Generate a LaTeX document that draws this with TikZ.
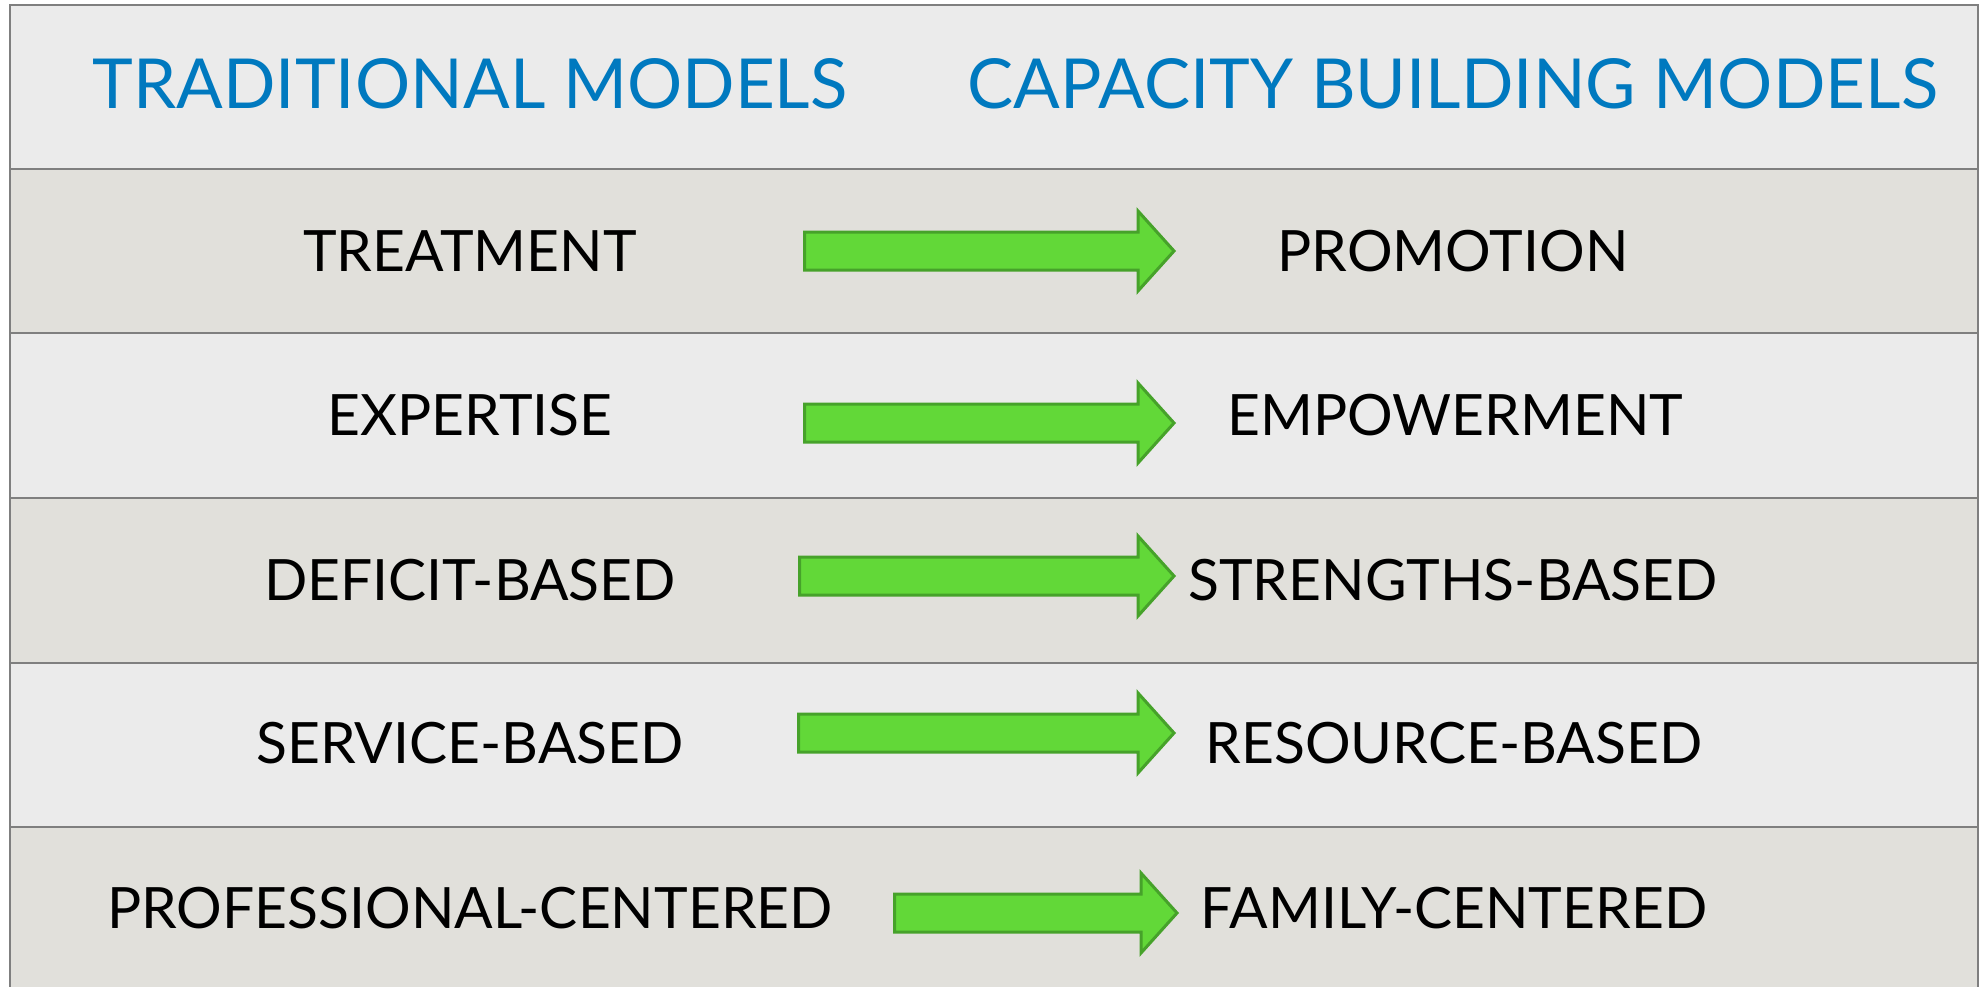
\documentclass[tikz,border=0pt]{standalone}
\usepackage{fontspec}
\setmainfont{Lato}
\definecolor{lightrow}{HTML}{EBEBEB}
\definecolor{darkrow}{HTML}{E1E0DB}
\definecolor{rule}{HTML}{7F7F7F}
\definecolor{headblue}{HTML}{0079BF}
\definecolor{arrowfill}{HTML}{62D838}
\definecolor{arrowedge}{HTML}{46A22A}
\tikzset{
  headtext/.style={anchor=base, text=headblue, font=\fontsize{69}{80}\selectfont, inner sep=0pt},
  bodytext/.style={anchor=base, text=black, font=\fontsize{57}{68}\selectfont, inner sep=0pt},
  greenarrow/.style={fill=arrowfill, draw=arrowedge, line width=3pt, line join=miter},
}
\newcommand{\fatarrow}[4]{% name, left x, tip x, centre y
  \draw[greenarrow] (#2+1.5,#4-19) -- (#3-38,#4-19) -- (#3-38,#4-40) -- (#3-2,#4)
    -- (#3-38,#4+40) -- (#3-38,#4+19) -- (#2+1.5,#4+19) -- cycle;
  \coordinate (#1) at (#3,#4);}
\begin{document}
\begin{tikzpicture}[x=1pt,y=-1pt]
\useasboundingbox (0,0) rectangle (1986,986);
\clip (0,0) rectangle (1986,986);
% rows
\fill[lightrow] (10,5) rectangle (1978,168.5);
\fill[darkrow] (10,168.5) rectangle (1978,333);
\fill[lightrow] (10,333) rectangle (1978,498);
\fill[darkrow] (10,498) rectangle (1978,662.5);
\fill[lightrow] (10,662.5) rectangle (1978,827);
\fill[darkrow] (10,827) rectangle (1978,995);
\draw[rule, line width=2.5pt] (10,5) rectangle (1978,995);
\foreach \yy in {168.5,333,498,662.5,827} \draw[rule, line width=2pt] (10,\yy) -- (1978,\yy);
% header
\node[headtext] (h1) at (470,108) {TRADITIONAL MODELS};
\node[headtext] (h2) at (1453,108) {CAPACITY BUILDING MODELS};
% body
\node[bodytext] (l1) at (470,271) {TREATMENT};
\node[bodytext] (r1) at (1453,271) {PROMOTION};
\node[bodytext] (l2) at (470,435) {EXPERTISE};
\node[bodytext] (r2) at (1455,435) {EMPOWERMENT};
\node[bodytext] (l3) at (470,600) {DEFICIT-BASED};
\node[bodytext] (r3) at (1453,600) {STRENGTHS-BASED};
\node[bodytext] (l4) at (470,763) {SERVICE-BASED};
\node[bodytext] (r4) at (1454,763) {RESOURCE-BASED};
\node[bodytext] (l5) at (470,928) {PROFESSIONAL-CENTERED};
\node[bodytext] (r5) at (1454,928) {FAMILY-CENTERED};
% arrows
\fatarrow{a1}{803}{1176}{251}
\fatarrow{a2}{803}{1176}{423}
\fatarrow{a3}{798}{1176}{576}
\fatarrow{a4}{797}{1176}{733}
\fatarrow{a5}{893}{1179}{913}
\end{tikzpicture}
\end{document}
